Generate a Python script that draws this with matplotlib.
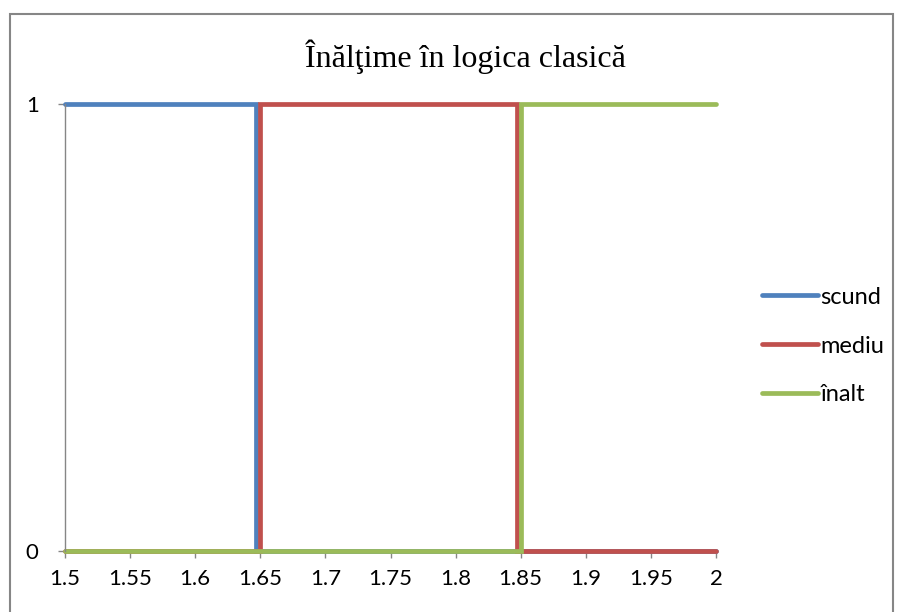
import matplotlib.pyplot as plt
from matplotlib.patches import Rectangle

# Date: înălțime (m) și apartenență (0/1)
x_scund = [1.5, 1.647, 1.647, 2.0]
y_scund = [1, 1, 0, 0]
x_mediu = [1.5, 1.650, 1.650, 1.847, 1.847, 2.0]
y_mediu = [0, 0, 1, 1, 0, 0]
x_inalt = [1.5, 1.8505, 1.8505, 2.0]
y_inalt = [0, 0, 1, 1]

xticks = [1.5, 1.55, 1.6, 1.65, 1.7, 1.75, 1.8, 1.85, 1.9, 1.95, 2]
xlabels = ['1.5', '1.55', '1.6', '1.65', '1.7', '1.75', '1.8', '1.85', '1.9', '1.95', '2']

fig = plt.figure(figsize=(9.04, 6.12), dpi=100)
ax = fig.add_axes([65/904, 1 - 551/612, 651/904, 447/612])

# chenarul graficului
fig.add_artist(Rectangle((10/904, -0.05), 883/904, 1.05 - 14/612, transform=fig.transFigure,
                         fill=False, edgecolor='#868686', linewidth=1.5))

kw = dict(linewidth=3.4, solid_capstyle='round', solid_joinstyle='miter', clip_on=False)
ax.plot(x_scund, y_scund, color='#4F81BD', label='scund', **kw)
ax.plot(x_mediu, y_mediu, color='#C0504D', label='mediu', **kw)
ax.plot(x_inalt, y_inalt, color='#9BBB59', label='înalt', **kw)

ax.set_xlim(1.5, 2)
ax.set_ylim(0, 1)
ax.set_xticks(xticks)
ax.set_xticklabels(xlabels)
ax.set_yticks([0, 1])

for s in ['top', 'right', 'bottom']:
    ax.spines[s].set_visible(False)
ax.spines['left'].set_color('#868686')
ax.spines['left'].set_linewidth(1)
ax.tick_params(axis='both', color='#868686', length=5, width=1,
               labelsize=16, labelcolor='black')
ax.tick_params(axis='x', pad=8)
ax.tick_params(axis='y', pad=14)
for lab in ax.get_xticklabels() + ax.get_yticklabels():
    lab.set_family('Lato')

fig.text(465/904, 1 - 57/612, 'Înălţime în logica clasică', ha='center', va='center',
         fontsize=23, family='Liberation Serif')

leg = ax.legend(loc='center left', bbox_to_anchor=(1.07, 0.4586), frameon=False,
                borderpad=0, borderaxespad=0,
                handlelength=2.4, handletextpad=0.1, labelspacing=1.18,
                prop={'family': 'Lato', 'size': 17})

fig.savefig('out.png', dpi=100)
